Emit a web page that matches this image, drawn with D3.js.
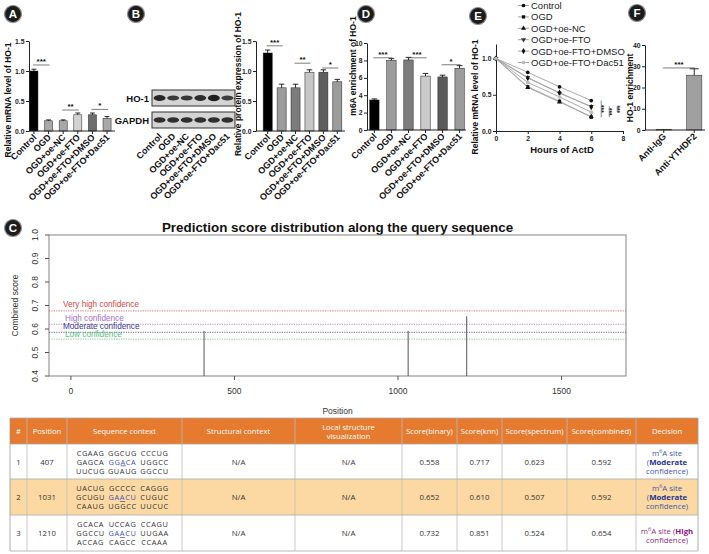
<!DOCTYPE html>
<html>
<head>
<meta charset="utf-8">
<script src="https://cdn.jsdelivr.net/npm/d3@7"></script>
<style>
  body { margin: 0; background: #fff; }
  svg { display: block; }
</style>
</head>
<body>
<svg id="fig" width="709" height="554"></svg>
<script>
// ---- data ----
var groups = ['Control', 'OGD', 'OGD+oe-NC', 'OGD+oe-FTO', 'OGD+oe-FTO+DMSO', 'OGD+oe-FTO+Dac51'];

var mrnaVals = [1.0, 0.17, 0.17, 0.27, 0.27, 0.21];
var mrnaErr = [0.03, 0.015, 0.015, 0.03, 0.03, 0.03];
var mrnaSig = [[0, 1, '***', 1.1], [2, 3, '**', 0.35], [4, 5, '*', 0.36]];

var proteinVals = [1.30, 0.72, 0.72, 0.98, 0.98, 0.82];
var proteinErr = [0.05, 0.06, 0.06, 0.04, 0.04, 0.04];
var proteinSig = [[0, 1, '***', 1.42], [2, 3, '**', 1.13], [4, 5, '*', 1.05]];
var ho1Bands = [0.9, 0.65, 0.7, 0.85, 1.0, 0.6];
var gapdhBands = [0.8, 0.8, 0.8, 0.8, 0.8, 0.8];

var m6aVals = [3.45, 8.0, 8.05, 6.2, 6.1, 7.1];
var m6aErr = [0.12, 0.2, 0.3, 0.3, 0.2, 0.3];
var m6aSig = [[0, 1, '***', 8.3], [2, 3, '***', 8.3], [4, 5, '*', 7.5]];

var hours = [0, 2, 4, 6];
var decayControl = [1.0, 0.81, 0.61, 0.42];
var decayOGD = [1.0, 0.61, 0.41, 0.19];
var decayNC = [1.0, 0.60, 0.40, 0.20];
var decayFTO = [1.0, 0.74, 0.52, 0.34];
var decayDMSO = [1.0, 0.73, 0.53, 0.33];
var decayDac51 = [1.0, 0.67, 0.47, 0.26];
var decaySig = [[0, 1], [3, 1], [3, 5]];

var ripNames = ['Anti-IgG', 'Anti-YTHDF2'];
var ripVals = [0.3, 25.8];
var ripErr = [0, 3];

var sitePos = [407, 1031, 1210];
var siteScore = [0.592, 0.592, 0.654];
var levelNames = ['Very high confidence', 'High confidence', 'Moderate confidence', 'Low confidence'];
var levelCuts = [0.677, 0.620, 0.586, 0.557];

var seqContext = [
  [['CGAAG', 'GGCUG', 'CCCUG'], ['GAGCA', 'GGACA', 'UGGCC'], ['UUCUG', 'GUAUG', 'GGCCU']],
  [['UACUG', 'GCCCC', 'CAGGG'], ['GCUGU', 'GAACU', 'CUGUC'], ['CAAUG', 'UGGCC', 'UUCUC']],
  [['GCACA', 'UCCAG', 'CCAGU'], ['GGCCU', 'GAACU', 'UUGAA'], ['ACCAG', 'CAGCC', 'CCAAA']]
];
var scoreBinary = [0.558, 0.652, 0.732];
var scoreKnn = [0.717, 0.610, 0.851];
var scoreSpectrum = [0.623, 0.507, 0.524];
var scoreCombined = [0.592, 0.592, 0.654];
var decisionLevel = ['Moderate', 'Moderate', 'High'];

// ---- drawing ----
var svg = d3.select('#fig')
  , FONT = 'Liberation Sans, Arial, Helvetica, sans-serif'
  , TFONT = 'Open Sans, Noto Sans, sans-serif'
  ;

function badge(cx, cy, letter) {
  svg.append('circle').attr('cx', cx).attr('cy', cy).attr('r', 8.5)
    .attr('fill', '#1c1c1c').attr('stroke', '#8c8c8c').attr('stroke-width', 1.2);
  svg.append('text').attr('x', cx).attr('y', cy + 4).attr('text-anchor', 'middle')
    .attr('fill', '#fff').attr('font-family', FONT).attr('font-weight', 'bold')
    .attr('font-size', 11.5).text(letter);
}

function styleAxis(sel) {
  sel.selectAll('path, line').attr('stroke', '#222').attr('stroke-width', 1);
  sel.selectAll('text').attr('font-family', FONT).attr('font-weight', 'bold')
    .attr('font-size', 6.8).attr('fill', '#222');
}

function vtitle(g, x, y, txt, size) {
  return g.append('text').attr('transform', 'translate(' + x + ',' + y + ') rotate(-90)')
    .attr('text-anchor', 'middle').attr('font-family', FONT).attr('font-weight', 'bold')
    .attr('font-size', size || 8.5).attr('fill', '#111').text(txt);
}

function slantLabels(g, names, xpos, y0) {
  g.selectAll(null).data(names).enter().append('text')
    .attr('transform', function (d, i) { return 'translate(' + (xpos(i) + 3) + ',' + (y0 + 7) + ') rotate(-45)'; })
    .attr('text-anchor', 'end').attr('font-family', FONT).attr('font-weight', 'bold')
    .attr('font-size', 9).attr('fill', '#111')
    .text(function (d) { return d; });
}

function barPanel(o) {
  var x = d3.scaleBand().domain(o.cats).range(o.xRange).paddingInner(o.padIn).paddingOuter(o.padOut)
    , y = d3.scaleLinear().domain(o.yDomain).range([o.yBase, o.yTop])
    , g = svg.append('g')
    , bw = x.bandwidth()
    , cx = function (i) { return x(o.cats[i]) + bw / 2; }
    ;

  g.selectAll('rect').data(o.vals).enter().append('rect')
    .attr('x', function (d, i) { return x(o.cats[i]); })
    .attr('y', function (d) { return y(d); })
    .attr('width', bw)
    .attr('height', function (d) { return y(0) - y(d); })
    .attr('fill', function (d, i) { return o.colors[i]; })
    .attr('stroke', '#222').attr('stroke-width', 0.5);

  // upper error bars (skipped where the error is zero)
  o.vals.forEach(function (d, i) {
    if (!(o.errs[i] > 0)) return;
    var top = y(d + o.errs[i]);
    g.append('line').attr('x1', cx(i)).attr('x2', cx(i)).attr('y1', y(d)).attr('y2', top)
      .attr('stroke', '#111').attr('stroke-width', 0.9);
    g.append('line').attr('x1', cx(i) - bw * 0.3).attr('x2', cx(i) + bw * 0.3).attr('y1', top).attr('y2', top)
      .attr('stroke', '#111').attr('stroke-width', 0.9);
  });

  // axes
  g.append('g').attr('transform', 'translate(' + o.axisX + ',0)')
    .call(d3.axisLeft(y).tickValues(o.ticks).tickFormat(d3.format(o.fmt)).tickSize(3).tickPadding(1.5).tickSizeOuter(0))
    .call(styleAxis);
  g.append('line').attr('x1', o.axisX).attr('x2', o.xEnd).attr('y1', y(0)).attr('y2', y(0))
    .attr('stroke', '#222').attr('stroke-width', 1);
  g.selectAll(null).data(o.cats).enter().append('line')
    .attr('x1', function (d, i) { return cx(i); }).attr('x2', function (d, i) { return cx(i); })
    .attr('y1', y(0)).attr('y2', y(0) + 3).attr('stroke', '#222');
  slantLabels(g, o.cats, cx, y(0));
  vtitle(g, o.titleX, o.titleY, o.title);

  // significance brackets
  (o.sig || []).forEach(function (s) {
    var x1 = cx(s[0]) - 1, x2 = cx(s[1]) + 1, yy = y(s[3]);
    g.append('line').attr('x1', x1).attr('x2', x2).attr('y1', yy).attr('y2', yy)
      .attr('stroke', '#444').attr('stroke-width', 0.7);
    g.append('text').attr('x', (x1 + x2) / 2).attr('y', yy - 1).attr('text-anchor', 'middle')
      .attr('font-family', FONT).attr('font-weight', 'bold').attr('font-size', 8).attr('fill', '#111')
      .text(s[2]);
  });
  return g;
}

// ---- A: mRNA ----
badge(13, 14, 'A');
barPanel({
  cats: groups, vals: mrnaVals, errs: mrnaErr, sig: mrnaSig,
  colors: ['#000', '#a8a8a8', '#a8a8a8', '#d2d2d2', '#6e6e6e', '#a8a8a8'],
  xRange: [27, 114], padIn: 0.45, padOut: 0.2, xEnd: 115, axisX: 29,
  yDomain: [0, 1.5], yBase: 131, yTop: 41, ticks: [0, 0.5, 1.0, 1.5], fmt: '.1f',
  title: 'Relative mRNA level of HO-1', titleX: 11, titleY: 100
});

// ---- B: western blot + protein ----
badge(136, 14, 'B');
var blot = svg.append('g')
  , lane = d3.scaleBand().domain(groups).range([152, 235]).padding(0.12)
  , laneC = function (i) { return lane(groups[i]) + lane.bandwidth() / 2; }
  ;
[[90, 106, ho1Bands, 'HO-1'], [112, 128, gapdhBands, 'GAPDH']].forEach(function (row) {
  blot.append('rect').attr('x', 152).attr('y', row[0]).attr('width', 83).attr('height', row[1] - row[0])
    .attr('fill', '#d4d4d4').attr('stroke', '#333').attr('stroke-width', 1);
  blot.selectAll(null).data(row[2]).enter().append('ellipse')
    .attr('cx', function (d, i) { return laneC(i); })
    .attr('cy', (row[0] + row[1]) / 2)
    .attr('rx', lane.bandwidth() / 2)
    .attr('ry', function (d) { return 1.2 + d * 2; })
    .attr('fill', '#161616').attr('opacity', function (d) { return 0.55 + d * 0.4; });
  blot.append('text').attr('x', 149).attr('y', (row[0] + row[1]) / 2 + 3.5).attr('text-anchor', 'end')
    .attr('font-family', FONT).attr('font-weight', 'bold').attr('font-size', 9.5).attr('fill', '#111')
    .text(row[3]);
});
slantLabels(blot, groups, laneC, 130);

barPanel({
  cats: groups, vals: proteinVals, errs: proteinErr, sig: proteinSig,
  colors: ['#000', '#9c9c9c', '#7c7c7c', '#c6c6c6', '#5e5e5e', '#9c9c9c'],
  xRange: [259, 346], padIn: 0.35, padOut: 0.3, xEnd: 345, axisX: 256,
  yDomain: [0, 1.5], yBase: 131, yTop: 41, ticks: [0, 0.5, 1.0, 1.5], fmt: '.1f',
  title: 'Relative protein expression of HO-1', titleX: 241, titleY: 84
});

// ---- D: m6A enrichment ----
badge(366, 14, 'D');
barPanel({
  cats: groups, vals: m6aVals, errs: m6aErr, sig: m6aSig,
  colors: ['#000', '#9c9c9c', '#7c7c7c', '#cacaca', '#5a5a5a', '#9c9c9c'],
  xRange: [368, 466], padIn: 0.45, padOut: 0.1, xEnd: 466, axisX: 367,
  yDomain: [0, 10], yBase: 130, yTop: 43, ticks: [0, 2, 4, 6, 8, 10], fmt: 'd',
  title: 'm6A enrichment of HO-1', titleX: 356, titleY: 66
});

// ---- E: mRNA decay ----
badge(478, 16, 'E');
var decaySeries = [
  { name: groups[0], vals: decayControl, sym: d3.symbolCircle, fill: '#111', rot: 0 },
  { name: groups[1], vals: decayOGD, sym: d3.symbolSquare, fill: '#111', rot: 0 },
  { name: groups[2], vals: decayNC, sym: d3.symbolTriangle, fill: '#111', rot: 0 },
  { name: groups[3], vals: decayFTO, sym: d3.symbolTriangle, fill: '#333', rot: 180 },
  { name: groups[4], vals: decayDMSO, sym: d3.symbolDiamond, fill: '#111', rot: 0 },
  { name: groups[5], vals: decayDac51, sym: d3.symbolCircle, fill: '#bbb', rot: 0 }
];
var eg = svg.append('g')
  , ex = d3.scaleLinear().domain([0, 8]).range([496, 623])
  , ey = d3.scaleLinear().domain([0, 1.2]).range([131, 44])
  , eline = d3.line().x(function (d, i) { return ex(hours[i]); }).y(function (d) { return ey(d); })
  ;
eg.append('g').attr('transform', 'translate(496,0)')
  .call(d3.axisLeft(ey).tickValues([0, 0.5, 1.0]).tickFormat(d3.format('.1f')).tickSize(3).tickPadding(1.5).tickSizeOuter(0))
  .call(styleAxis);
eg.append('g').attr('transform', 'translate(0,131)')
  .call(d3.axisBottom(ex).tickValues([0, 2, 4, 6, 8]).tickSize(3).tickPadding(2).tickSizeOuter(0))
  .call(styleAxis);
decaySeries.forEach(function (s) {
  eg.append('path').datum(s.vals).attr('d', eline)
    .attr('fill', 'none').attr('stroke', '#a0a0a0').attr('stroke-width', 0.9);
  eg.selectAll(null).data(s.vals).enter().append('path')
    .attr('d', d3.symbol().type(s.sym).size(11))
    .attr('transform', function (d, i) { return 'translate(' + ex(hours[i]) + ',' + ey(d) + ') rotate(' + s.rot + ')'; })
    .attr('fill', s.fill);
});
decaySig.forEach(function (p, k) {
  var xx = ex(6) + 10 + k * 8
    , y1 = ey(decaySeries[p[0]].vals[3]), y2 = ey(decaySeries[p[1]].vals[3]);
  eg.append('line').attr('x1', xx).attr('x2', xx).attr('y1', y1).attr('y2', y2)
    .attr('stroke', '#555').attr('stroke-width', 0.7);
  eg.append('text').attr('transform', 'translate(' + (xx - 2) + ',' + ((y1 + y2) / 2) + ') rotate(90)')
    .attr('text-anchor', 'middle').attr('font-family', FONT).attr('font-weight', 'bold')
    .attr('font-size', 6.5).attr('fill', '#111').text('***');
});
vtitle(eg, 478, 97, 'Relative mRNA level of HO-1');
eg.append('text').attr('x', 562).attr('y', 153).attr('text-anchor', 'middle')
  .attr('font-family', FONT).attr('font-weight', 'bold').attr('font-size', 9.5).attr('fill', '#111')
  .text('Hours of ActD');

// legend
var leg = eg.selectAll('g.leg').data(decaySeries).enter().append('g')
  .attr('transform', function (d, i) { return 'translate(0,' + (5.5 + i * 11.4) + ')'; });
leg.append('line').attr('x1', 518).attr('x2', 529).attr('stroke', '#9a9a9a').attr('stroke-width', 0.9);
leg.append('path')
  .attr('d', function (d) { return d3.symbol().type(d.sym).size(11)(); })
  .attr('transform', function (d) { return 'translate(523.5,0) rotate(' + d.rot + ')'; })
  .attr('fill', function (d) { return d.fill; });
leg.append('text').attr('x', 531).attr('y', 3.5).attr('font-family', FONT).attr('font-size', 9.5)
  .attr('fill', '#222').text(function (d) { return d.name; });

// ---- F: RIP ----
badge(637, 13, 'F');
barPanel({
  cats: ripNames, vals: ripVals, errs: ripErr, sig: [[0, 1, '***', 29.2]],
  colors: ['#a0a0a0', '#a0a0a0'],
  xRange: [647, 711], padIn: 0.5, padOut: 0.3, xEnd: 705, axisX: 645,
  yDomain: [0, 40], yBase: 130, yTop: 45, ticks: [0, 10, 20, 30, 40], fmt: 'd',
  title: 'HO-1 enrichment', titleX: 633, titleY: 88
});

// ---- C: prediction score plot ----
badge(13, 228, 'C');
var cg = svg.append('g')
  , px = d3.scaleLinear().domain([-67, 1697]).range([49, 626])
  , py = d3.scaleLinear().domain([0.4, 1.0]).range([376, 235])
  , levelColors = ['#d04848', '#a46ac8', '#3a3a8c', '#5cc07a']
  ;
cg.append('text').attr('x', 337.5).attr('y', 232).attr('text-anchor', 'middle')
  .attr('font-family', FONT).attr('font-weight', 'bold').attr('font-size', 13.4).attr('fill', '#111')
  .text('Prediction score distribution along the query sequence');
cg.append('rect').attr('x', 49).attr('y', 235).attr('width', 577).attr('height', 141)
  .attr('fill', 'none').attr('stroke', '#777').attr('stroke-width', 0.9);
d3.range(0.4, 1.01, 0.1).forEach(function (v) {
  cg.append('line').attr('x1', 45).attr('x2', 49).attr('y1', py(v)).attr('y2', py(v)).attr('stroke', '#555');
  cg.append('text').attr('transform', 'translate(38,' + py(v) + ') rotate(-90)')
    .attr('text-anchor', 'middle').attr('font-family', FONT).attr('font-size', 8.5).attr('fill', '#333')
    .text(v.toFixed(1));
});
[0, 500, 1000, 1500].forEach(function (v) {
  cg.append('line').attr('x1', px(v)).attr('x2', px(v)).attr('y1', 376).attr('y2', 380).attr('stroke', '#555');
  cg.append('text').attr('x', px(v)).attr('y', 394).attr('text-anchor', 'middle')
    .attr('font-family', FONT).attr('font-size', 8.5).attr('fill', '#333').text(v);
});
vtitle(cg, 18, 305.5, 'Combined score', 8.5).attr('font-weight', 'normal').attr('fill', '#333');
cg.append('text').attr('x', 337.5).attr('y', 414).attr('text-anchor', 'middle')
  .attr('font-family', FONT).attr('font-size', 8.5).attr('fill', '#333').text('Position');

levelCuts.forEach(function (v, i) {
  cg.append('line').attr('x1', 49).attr('x2', 626).attr('y1', py(v)).attr('y2', py(v))
    .attr('stroke', levelColors[i]).attr('stroke-width', 0.8).attr('stroke-dasharray', '1.2,1.2');
});
var labelBase = [307, 321, 329, 337];
levelNames.forEach(function (n, i) {
  cg.append('text').attr('x', i % 2 ? 65 : 63).attr('y', labelBase[i])
    .attr('font-family', FONT).attr('font-size', 8.2).attr('fill', levelColors[i]).text(n);
});
cg.selectAll(null).data(sitePos).enter().append('line')
  .attr('x1', function (d) { return px(d); }).attr('x2', function (d) { return px(d); })
  .attr('y1', py(0.4)).attr('y2', function (d, i) { return py(siteScore[i]); })
  .attr('stroke', '#555').attr('stroke-width', 1);

// ---- table ----
var tg = svg.append('g')
  , colX = [10, 27, 67, 182, 295, 402, 457, 502, 567, 636, 698]
  , rowY = [418, 444, 479, 515, 551]
  , heads = [['#'], ['Position'], ['Sequence context'], ['Structural context'], ['Local structure', 'visualization'],
             ['Score(binary)'], ['Score(knn)'], ['Score(spectrum)'], ['Score(combined)'], ['Decision']]
  , mid = function (c) { return (colX[c] + colX[c + 1]) / 2; }
  ;
tg.append('rect').attr('x', colX[0]).attr('y', rowY[0]).attr('width', colX[10] - colX[0])
  .attr('height', rowY[1] - rowY[0]).attr('fill', '#e67a2e');
tg.append('rect').attr('x', colX[0]).attr('y', rowY[2]).attr('width', colX[10] - colX[0])
  .attr('height', rowY[3] - rowY[2]).attr('fill', '#fcd9a3');
heads.forEach(function (h, c) {
  h.forEach(function (line, k) {
    tg.append('text').attr('x', mid(c)).attr('y', (rowY[0] + rowY[1]) / 2 + 3 + (k - (h.length - 1) / 2) * 9)
      .attr('text-anchor', 'middle').attr('font-family', TFONT).attr('font-size', 7.6).attr('fill', '#fff')
      .text(line);
  });
});
colX.forEach(function (x, c) {
  tg.append('line').attr('x1', x).attr('x2', x).attr('y1', rowY[0]).attr('y2', rowY[4])
    .attr('stroke', c === 0 || c === 10 ? '#999' : '#bbb').attr('stroke-width', 0.8);
});
rowY.forEach(function (y) {
  tg.append('line').attr('x1', colX[0]).attr('x2', colX[10]).attr('y1', y).attr('y2', y)
    .attr('stroke', '#aaa').attr('stroke-width', 0.8);
});

function rich(x, y, parts, size, spacing) {
  var t = tg.append('text').attr('x', x).attr('y', y).attr('text-anchor', 'middle')
    .attr('font-family', TFONT).attr('font-size', size);
  if (spacing) t.attr('letter-spacing', spacing);
  var shift = 0;
  parts.forEach(function (p) {
    var target = p.sup ? -3 : 0
      , s = t.append('tspan').attr('dy', target - shift).attr('fill', p.c || '#333').text(p.t);
    if (p.b) s.attr('font-weight', 'bold');
    if (p.sup) s.attr('font-size', size * 0.7);
    if (p.u) s.attr('text-decoration', 'underline');
    shift = target;
  });
}

var cellText = function (c, yc, txt) {
  tg.append('text').attr('x', mid(c)).attr('y', yc + 3).attr('text-anchor', 'middle')
    .attr('font-family', TFONT).attr('font-size', 7.8).attr('fill', '#333').text(txt);
};
var seqOffsets = [-34, -2, 30], seqBlue = '#4352b4';
sitePos.forEach(function (pos, r) {
  var top = rowY[r + 1], bot = rowY[r + 2], yc = (top + bot) / 2;
  cellText(0, yc, String(r + 1));
  cellText(1, yc, String(pos));
  cellText(3, yc, 'N/A');
  cellText(4, yc, 'N/A');
  cellText(5, yc, scoreBinary[r].toFixed(3));
  cellText(6, yc, scoreKnn[r].toFixed(3));
  cellText(7, yc, scoreSpectrum[r].toFixed(3));
  cellText(8, yc, scoreCombined[r].toFixed(3));
  seqContext[r].forEach(function (line, k) {
    var yy = yc + 3 + (k - 1) * 9;
    line.forEach(function (grp, j) {
      // the centre group of the middle line holds the site, its A underlined
      var parts = (k === 1 && j === 1)
        ? [{ t: grp.slice(0, 2), c: seqBlue }, { t: grp[2], c: seqBlue, u: true }, { t: grp.slice(3), c: seqBlue }]
        : [{ t: grp, c: '#333' }];
      rich(mid(2) + seqOffsets[j], yy, parts, 7.4, 0.6);
    });
  });
  var blue = '#3c5aa6', dark = '#26358e', purple = '#84307e', deep = '#8a1478';
  if (decisionLevel[r] === 'High') {
    rich(mid(9), yc + 1, [{ t: 'm', c: purple }, { t: '6', c: purple, sup: true }, { t: 'A site (', c: purple },
      { t: 'High', c: deep, b: true }], 7.8);
    rich(mid(9), yc + 10, [{ t: 'confidence)', c: purple }], 7.8);
  } else {
    rich(mid(9), yc - 6, [{ t: 'm', c: blue }, { t: '6', c: blue, sup: true }, { t: 'A site', c: blue }], 7.8);
    rich(mid(9), yc + 3, [{ t: '(', c: blue }, { t: 'Moderate', c: dark, b: true }], 7.8);
    rich(mid(9), yc + 12, [{ t: 'confidence)', c: blue }], 7.8);
  }
});
</script>
</body>
</html>
